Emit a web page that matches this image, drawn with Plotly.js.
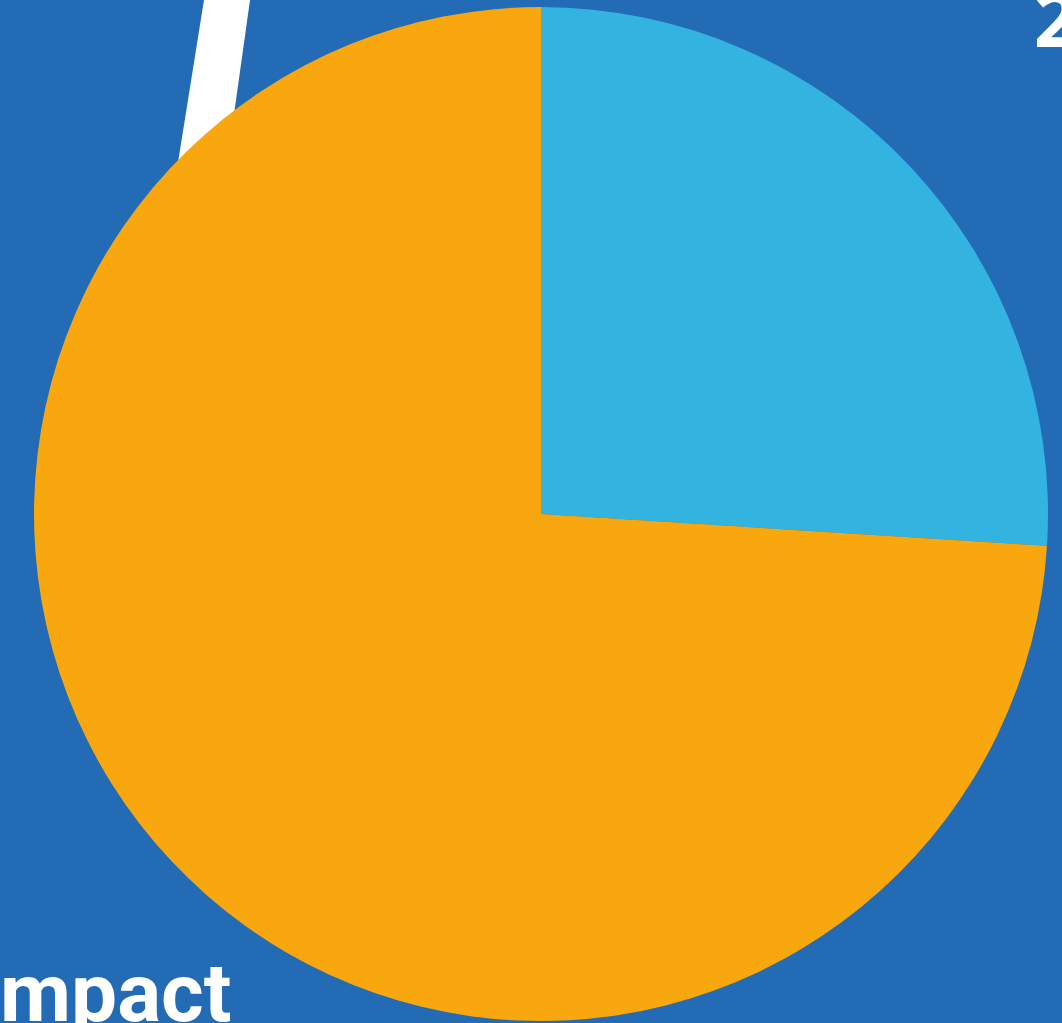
<!DOCTYPE html>
<html>
<head>
<meta charset="utf-8">
<script src="https://cdn.plot.ly/plotly-3.0.1.min.js"></script>
<style>html,body{margin:0;padding:0;background:#246BB6;}#chart{width:1062px;height:1023px;}</style>
</head>
<body>
<div id="chart"></div>
<script>
const labels = ["Share A", "Share B"];
const values = [26, 74];
const colors = ["#32B3E0", "#F8A70E"];

const W = 1062, H = 1023;
const cx = 541, cyTop = 514, R = 507;
const cyBottom = H - cyTop;

const data = [{
  type: "pie",
  labels: labels,
  values: values,
  sort: false,
  direction: "clockwise",
  rotation: 0,
  textinfo: "none",
  hoverinfo: "label+percent",
  marker: {colors: colors, line: {width: 0}},
  domain: {x: [(cx - R) / W, (cx + R) / W], y: [(cyBottom - R) / H, (cyBottom + R) / H]},
  showlegend: false
}];

const layout = {
  width: W, height: H,
  margin: {l: 0, r: 0, t: 0, b: 0},
  paper_bgcolor: "#246BB6",
  plot_bgcolor: "#246BB6",
  showlegend: false,
  shapes: [{
    type: "path", xref: "paper", yref: "paper", layer: "below",
    path: "M " + (204 / W) + " 1 L " + (250 / W) + " 1 L " + (222 / W) + " " + (1 - 200 / H) + " L " + (172 / W) + " " + (1 - 200 / H) + " Z",
    fillcolor: "#FFFFFF", line: {width: 0}
  }],
  annotations: [
    {text: "mpact", xref: "paper", yref: "paper", x: -0.002, y: -0.0196, xanchor: "left", yanchor: "bottom",
     showarrow: false, font: {family: "Roboto, sans-serif", size: 82, color: "#FFFFFF", weight: 700}},
    {text: "2", xref: "paper", yref: "paper", x: 1032 / W, y: 1.034, xanchor: "left", yanchor: "top",
     showarrow: false, font: {family: "Open Sans", size: 75, color: "#FFFFFF", weight: 700}}
  ]
};

Plotly.newPlot("chart", data, layout, {displayModeBar: false, staticPlot: true});
</script>
</body>
</html>
